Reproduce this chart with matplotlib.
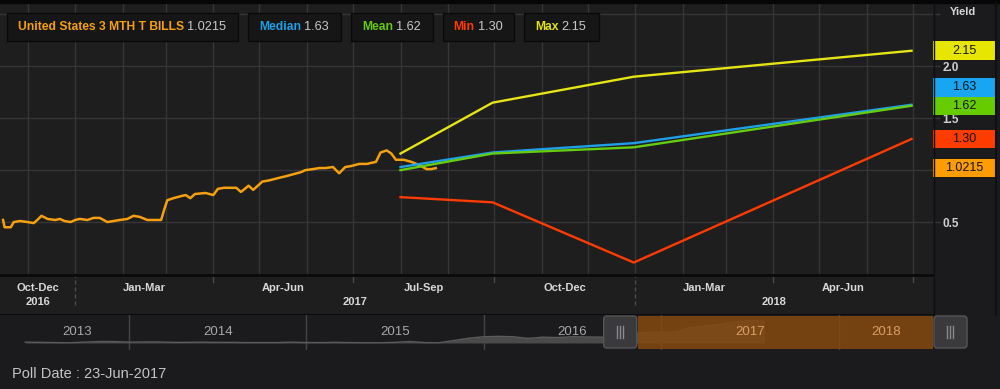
import pandas as pd
import matplotlib
matplotlib.use('Agg')
import matplotlib.pyplot as plt
import matplotlib.dates as mdates
import matplotlib.transforms as mtransforms
from matplotlib.patches import Rectangle, FancyBboxPatch
from matplotlib.lines import Line2D

plt.rcParams['font.family'] = ['Liberation Sans', 'DejaVu Sans']

# ---- data ----
bill_dates = [
    '2016-11-15', '2016-11-16', '2016-11-20', '2016-11-22', '2016-11-26',
    '2016-12-01', '2016-12-05', '2016-12-08', '2016-12-10', '2016-12-14', '2016-12-19', '2016-12-22', '2016-12-25', '2016-12-29',
    '2017-01-01', '2017-01-04', '2017-01-09', '2017-01-13', '2017-01-17', '2017-01-22', '2017-01-26', '2017-01-30',
    '2017-02-04', '2017-02-08', '2017-02-12', '2017-02-17', '2017-02-22', '2017-02-26', '2017-02-28',
    '2017-03-02', '2017-03-06', '2017-03-11', '2017-03-14', '2017-03-17', '2017-03-20', '2017-03-27',
    '2017-04-01', '2017-04-04', '2017-04-08', '2017-04-16', '2017-04-19', '2017-04-24', '2017-04-27',
    '2017-05-03', '2017-05-07', '2017-05-15', '2017-05-18', '2017-05-23', '2017-05-28', '2017-05-31',
    '2017-06-05', '2017-06-09', '2017-06-13', '2017-06-18', '2017-06-22', '2017-06-26', '2017-06-30',
    '2017-07-05', '2017-07-10', '2017-07-13', '2017-07-16', '2017-07-19', '2017-07-23', '2017-07-26', '2017-07-29',
    '2017-08-03', '2017-08-08', '2017-08-13', '2017-08-18', '2017-08-21', '2017-08-24',
]
bill_values = [
    0.52, 0.45, 0.45, 0.50, 0.51,
    0.50, 0.49, 0.53, 0.56, 0.53, 0.52, 0.53, 0.51, 0.50,
    0.52, 0.53, 0.52, 0.54, 0.54, 0.50, 0.51, 0.52,
    0.53, 0.56, 0.55, 0.52, 0.52, 0.52, 0.62,
    0.71, 0.73, 0.75, 0.76, 0.73, 0.77, 0.78,
    0.76, 0.82, 0.83, 0.83, 0.79, 0.85, 0.81,
    0.89, 0.90, 0.93, 0.94, 0.96, 0.98, 1.00,
    1.01, 1.02, 1.02, 1.03, 0.97, 1.03, 1.04,
    1.06, 1.06, 1.07, 1.08, 1.17, 1.19, 1.16, 1.10,
    1.10, 1.08, 1.05, 1.01, 1.01, 1.02,
]

fc_dates = ['2017-08-01', '2017-09-30', '2017-12-31', '2018-06-30']
median_fc = [1.03, 1.17, 1.26, 1.63]
mean_fc = [1.00, 1.16, 1.22, 1.62]
min_fc = [0.74, 0.69, 0.11, 1.30]
max_fc = [1.16, 1.65, 1.90, 2.15]

series_names = ['United States 3 MTH T BILLS', 'Median', 'Mean', 'Min', 'Max']
last_values = [1.0215, 1.63, 1.62, 1.30, 2.15]
last_labels = ['1.0215', '1.63', '1.62', '1.30', '2.15']

quarter_starts = ['2016-10-01', '2017-01-01', '2017-04-01', '2017-07-01',
                  '2017-10-01', '2018-01-01', '2018-04-01']
quarter_labels = ['Oct-Dec', 'Jan-Mar', 'Apr-Jun', 'Jul-Sep', 'Oct-Dec', 'Jan-Mar', 'Apr-Jun']

# navigator history (monthly, Jun 2013 - Aug 2017)
nav_start = '2013-06-01'
nav_values = [
    0.04, 0.03, 0.02, 0.01, 0.04, 0.07, 0.07,
    0.04, 0.05, 0.05, 0.03, 0.03, 0.04, 0.03, 0.03, 0.02, 0.02, 0.02, 0.04,
    0.02, 0.02, 0.03, 0.02, 0.01, 0.01, 0.03, 0.07, 0.02, 0.01, 0.12, 0.23,
    0.30, 0.32, 0.30, 0.22, 0.28, 0.26, 0.30, 0.29, 0.28, 0.33, 0.45, 0.51,
    0.52, 0.53, 0.75, 0.80, 0.90, 1.01, 1.07, 1.03,
]
nav_years = [2013, 2014, 2015, 2016, 2017, 2018]

# ---- styling ----
W, H = 1000, 389
BG = '#1b1b1d'
PLOT_BG = '#1e1e1e'
GRID = '#363636'
line_colors = ['#f5a00f', '#1e9fe8', '#66cc11', '#ff3b00', '#e4e416']
box_colors = ['#ff9c00', '#18a5f2', '#66cc00', '#ff3c00', '#e6e600']

fig = plt.figure(figsize=(W / 100, H / 100), dpi=100, facecolor=BG)


def px_axes(x0, y0, x1, y1):
    # pixel box measured from top-left
    return fig.add_axes([x0 / W, 1 - y1 / H, (x1 - x0) / W, (y1 - y0) / H])


def fig_line(x0, y0, x1, y1, **kw):
    fig.add_artist(Line2D([x0 / W, x1 / W], [1 - y0 / H, 1 - y1 / H], transform=fig.transFigure, **kw))


xmin, xmax = pd.Timestamp('2016-11-13'), pd.Timestamp('2018-07-14')

# ---- main chart ----
ax = px_axes(0, 3, 933, 275)
ax.set_facecolor(PLOT_BG)
fc = pd.to_datetime(fc_dates)
ax.plot(pd.to_datetime(bill_dates), bill_values, color=line_colors[0], lw=1.8, zorder=3)
ax.plot(fc, median_fc, color=line_colors[1], lw=1.7, zorder=4)
ax.plot(fc, mean_fc, color=line_colors[2], lw=1.7, zorder=4)
ax.plot(fc, min_fc, color=line_colors[3], lw=1.7, zorder=4)
ax.plot(fc, max_fc, color=line_colors[4], lw=1.7, zorder=4)
ax.set_xlim(xmin, xmax)
ax.set_ylim(-0.01, 2.61)
ax.xaxis.set_major_locator(mdates.MonthLocator())
ax.grid(True, color=GRID, lw=1)
ax.tick_params(axis='x', length=0, labelbottom=False)
ax.yaxis.tick_right()
ax.set_yticks([0.5, 1.0, 1.5, 2.0, 2.5])
# the 1.0 label sits under the last-value box, so it is left blank
ax.set_yticklabels(['0.5', '', '1.5', '2.0', ''])
ax.tick_params(axis='y', length=5, width=1, color=GRID, labelcolor='#cfcfcf', labelsize=8.5, pad=2)
for lbl in ax.get_yticklabels():
    lbl.set_fontweight('bold')
for s in ax.spines.values():
    s.set_visible(False)

fig.text(950 / W, 1 - 12 / H, 'Yield', color='#d5d5d5', fontsize=8, fontweight='bold', va='center')

# last value boxes on the right, pushed apart when they overlap
trans = mtransforms.blended_transform_factory(fig.transFigure, ax.transData)
box_h = 18.6 / 104.2
order = sorted(range(len(last_values)), key=lambda i: last_values[i])
prev = -10
for i in order:
    yc = max(last_values[i], prev + box_h)
    prev = yc
    fig.add_artist(Rectangle((933 / W, yc - box_h / 2), 62 / W, box_h, transform=trans,
                             facecolor=box_colors[i], edgecolor='none', zorder=2))
    fig.text(964 / W, yc, last_labels[i], transform=trans, ha='center', va='center',
             fontsize=9, color='#151515', zorder=3)

# top black strip and right separators
fig.add_artist(Rectangle((0, 1 - 3 / H), 1, 3 / H, transform=fig.transFigure, color='#060606', zorder=2))
fig_line(933.5, 3, 933.5, 315, color='#101010', lw=1)
fig_line(996, 3, 996, 315, color='#101010', lw=1.5)

# legend boxes along the top
renderer = fig.canvas.get_renderer()
x = 7
for name, val, col in zip(series_names, last_labels, line_colors):
    t1 = fig.text((x + 11) / W, 1 - 27.5 / H, name, color=col, fontweight='bold', fontsize=8.7, va='center', zorder=3)
    bb = t1.get_window_extent(renderer)
    t2 = fig.text((bb.x1 + 3) / W, 1 - 27.5 / H, val, color='#c8c8c8', fontsize=9.2, va='center', zorder=3)
    bb2 = t2.get_window_extent(renderer)
    right = bb2.x1 + 12
    fig.add_artist(Rectangle((x / W, 1 - 41 / H), (right - x) / W, 28 / H, transform=fig.transFigure,
                             facecolor='#161616', edgecolor='#0a0a0a', lw=1, zorder=2))
    x = right + 10

# ---- quarter / year axis band ----
axb = px_axes(0, 275, 933, 315)
axb.set_facecolor(PLOT_BG)
axb.set_xlim(xmin, xmax)
axb.set_ylim(0, 1)
axb.set_xticks([])
axb.set_yticks([])
for side in ['left', 'right']:
    axb.spines[side].set_visible(False)
for side in ['top', 'bottom']:
    axb.spines[side].set_color('#0a0a0a')
    axb.spines[side].set_linewidth(2)

q_start = pd.to_datetime(quarter_starts)
q_end = [s + pd.DateOffset(months=3) for s in q_start]
for s, e, lab in zip(q_start, q_end, quarter_labels):
    mid = max(s, xmin) + (min(e, xmax) - max(s, xmin)) / 2
    axb.text(mid, 0.675, lab, ha='center', va='center', color='#d8d8d8', fontsize=8, fontweight='bold')
    if xmin < e < xmax:
        if e.month == 1:
            axb.plot([e, e], [0.25, 1], color='#4a4a4a', lw=1, ls=(0, (3, 2)))
        else:
            axb.plot([e, e], [0.82, 1], color='#4a4a4a', lw=1)
for yr in sorted(set(q.year for q in q_start)):
    s = max([q for q in q_start if q.year == yr][0], xmin)
    e = max(q for q, qs in zip(q_end, q_start) if qs.year == yr)
    mid = s + (e - s) / 2
    axb.text(mid, 0.325, str(yr), ha='center', va='center', color='#d8d8d8', fontsize=8, fontweight='bold')

# ---- navigator ----
axn = px_axes(0, 315, 1000, 350)
axn.set_facecolor(BG)
nav_dates = pd.date_range(nav_start, periods=len(nav_values), freq='MS')
axn.fill_between(nav_dates, 0, nav_values, color='#4a4a4a', lw=0, zorder=2)
axn.plot(nav_dates, nav_values, color='#5c5c5c', lw=1, zorder=2)
axn.set_xlim(pd.Timestamp('2013-04-10'), pd.Timestamp('2018-11-29'))
axn.set_ylim(-0.336, 1.344)
axn.set_xticks([])
axn.set_yticks([])
for s in axn.spines.values():
    s.set_visible(False)
for yr in nav_years[1:]:
    axn.axvline(pd.Timestamp(f'{yr}-01-01'), color='#444444', lw=1, zorder=1)

axn.add_patch(Rectangle((mdates.date2num(xmin), 0.03), mdates.date2num(xmax) - mdates.date2num(xmin), 0.94,
                        transform=mtransforms.blended_transform_factory(axn.transData, axn.transAxes),
                        facecolor='#84480f', alpha=0.85, edgecolor='none', zorder=3))
for yr in nav_years:
    s = max(pd.Timestamp(f'{yr}-01-01'), nav_dates[0])
    e = min(pd.Timestamp(f'{yr + 1}-01-01'), xmax)
    mid = s + (e - s) / 2
    inside = xmin <= mid <= xmax
    axn.text(mid, 0.51, str(yr), transform=mtransforms.blended_transform_factory(axn.transData, axn.transAxes),
             ha='center', va='center', fontsize=9.5, color='#d9a066' if inside else '#a8a8a8', zorder=4)

# navigator handles
sx0 = axn.transData.transform((mdates.date2num(xmin), 0))[0]
sx1 = axn.transData.transform((mdates.date2num(xmax), 0))[0]
for hx in [sx0 - 34, sx1 + 1]:
    fig.add_artist(FancyBboxPatch((hx, H - 348), 33, 32, boxstyle='round,pad=0,rounding_size=3',
                                  transform=mtransforms.IdentityTransform(),
                                  facecolor='#3a3a3c', edgecolor='#555555', lw=1, zorder=3))
    for k in (-3, 0, 3):
        cx = hx + 16.5 + k
        fig.add_artist(Line2D([cx, cx], [H - 338, H - 326], transform=mtransforms.IdentityTransform(),
                              color='#8a8a8a', lw=1, zorder=4))

# ---- footer ----
fig.text(12 / W, 1 - 374 / H, 'Poll Date : 23-Jun-2017', color='#c4c4c4', fontsize=10.5, va='center')

fig.savefig('out.png', dpi=100, facecolor=BG)
